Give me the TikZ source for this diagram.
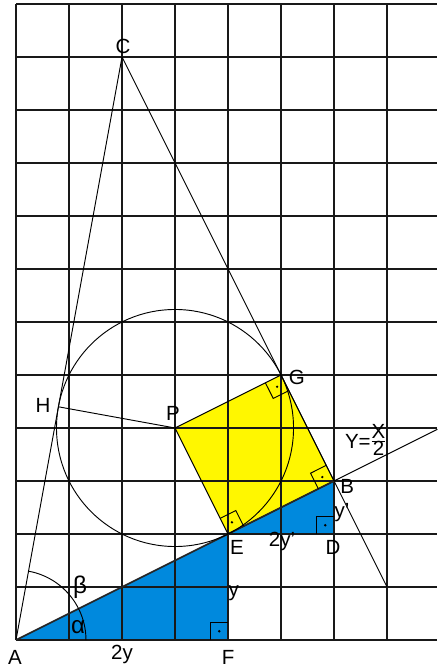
\documentclass[tikz,border=0pt]{standalone}
\usepackage{fontspec}
\setmainfont{Liberation Sans}
\usetikzlibrary{calc}
\definecolor{triblue}{RGB}{0,137,221}
\definecolor{sqyellow}{RGB}{255,247,0}
\begin{document}
\begin{tikzpicture}[x=1cm,y=1cm,
  gridline/.style={line width=0.9pt,black!90},
  thinline/.style={line width=0.5pt,black},
  edgeline/.style={line width=0.9pt,black!85},
  lbl/.style={inner sep=0pt,font=\fontsize{11}{12}\selectfont},
  glbl/.style={inner sep=0pt,font=\fontsize{13}{14}\selectfont},
  rmark/.style={line width=0.5pt,black}]
\useasboundingbox (-0.302,-0.528) rectangle (7.943,12.075);
% points
\coordinate (A) at (0,0);
\coordinate (F) at (4,0);
\coordinate (E) at (4,2);
\coordinate (D) at (6,2);
\coordinate (B) at (6,3);
\coordinate (C) at (2,11);
\coordinate (P) at (3,4);
\coordinate (G) at (5,5);
\coordinate (H) at (0.8,4.4);
\coordinate (Q) at (7,1);
\coordinate (R) at (7.95,3.975);
% fills
\fill[triblue] (A) -- (F) -- (E) -- cycle;
\fill[triblue] (E) -- (D) -- (B) -- cycle;
\fill[sqyellow] (P) -- (G) -- (B) -- (E) -- cycle;
% grid
\foreach \i in {0,...,7} \draw[gridline] (\i,0) -- (\i,12);
\foreach \j in {0,...,12} \draw[gridline] (0,\j) -- (7.95,\j);
% lines
\draw[thinline] (A) -- (C) -- (Q);
\draw[thinline] (E) -- (R);
\draw[edgeline] (A) -- (E) -- (B);
\draw[thinline] (P) -- (G) -- (B) (E) -- (P);
\draw[thinline] (H) -- (P);
\draw[thinline] (P) circle ({sqrt(5)});
\draw[thinline] (1.32,0) arc[start angle=0,end angle=79.7,radius=1.32];
% right angle marks
\draw[rmark] ($(F)+(-0.33,0)$) -- ++(0,0.33) -- ++(0.33,0);
\fill ($(F)+(-0.165,0.165)$) circle (0.7pt);
\draw[rmark] ($(D)+(-0.33,0)$) -- ++(0,0.33) -- ++(0.33,0);
\fill ($(D)+(-0.165,0.165)$) circle (0.7pt);
% E: directions (2,1) and (-1,2) scaled
\draw[rmark] ($(E)+(0.295,0.148)$) -- ++(-0.148,0.295) -- ++(-0.295,-0.148);
\fill ($(E)+(0.074,0.221)$) circle (0.7pt);
% B: directions (-2,-1) and (-1,2)
\draw[rmark] ($(B)+(-0.295,-0.148)$) -- ++(-0.148,0.295) -- ++(0.295,0.148);
\fill ($(B)+(-0.221,0.074)$) circle (0.7pt);
% G: directions (1,-2) and (-2,-1)
\draw[rmark] ($(G)+(0.148,-0.295)$) -- ++(-0.295,-0.148) -- ++(-0.148,0.295);
\fill ($(G)+(-0.074,-0.221)$) circle (0.7pt);
% labels
\node[lbl] (lC) at (2.02,11.19) {C};
\node[lbl] (lA) at (-0.02,-0.32) {A};
\node[lbl] (l2y) at (2.0,-0.28) {2y};
\node[lbl] (lF) at (4.0,-0.32) {F};
\node[lbl] (ly) at (4.11,0.89) {y};
\node[glbl] (lal) at (1.17,0.25) {α};
\node[glbl] (lbe) at (1.21,1.0) {β};
\node[lbl] (lE) at (4.17,1.74) {E};
\node[lbl] (l2yp) at (5.02,1.85) {2y'};
\node[lbl] (lD) at (5.98,1.74) {D};
\node[lbl] (lyp) at (6.15,2.40) {y'};
\node[lbl] (lB) at (6.25,2.89) {B};
\node[lbl] (lG) at (5.30,4.96) {G};
\node[lbl] (lP) at (2.96,4.28) {P};
\node[lbl] (lH) at (0.51,4.43) {H};
\node[lbl] (lY) at (6.45,3.74) {Y=};
\node[lbl] (lfrac) at (6.84,3.73) {\renewcommand\arraystretch{0.7}\begin{tabular}{@{}c@{}}X\\[-1pt]\hline 2\end{tabular}};
\end{tikzpicture}
\end{document}
